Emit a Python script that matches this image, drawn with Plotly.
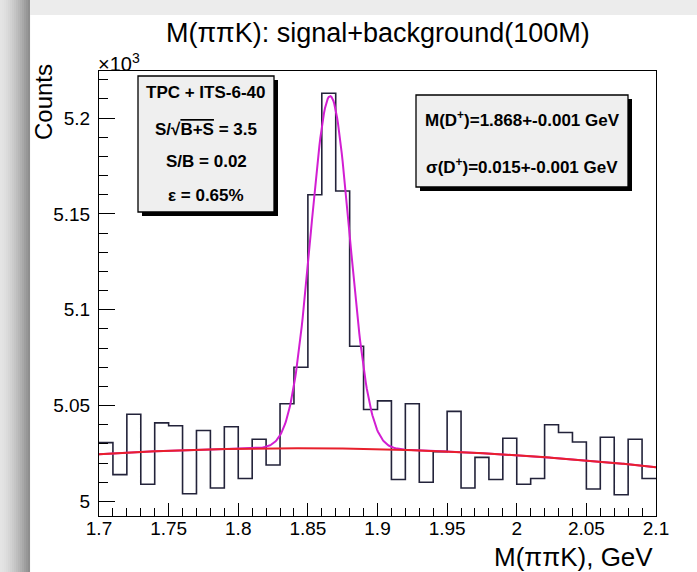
import numpy as np
import plotly.graph_objects as go

# ---------------- data ----------------
bin_low = 1.7
bin_high = 2.1
bin_width = 0.01
counts = [5030.7, 5014.0, 5045.5, 5009.0, 5041.0, 5039.5, 5004.0, 5037.0, 5007.0, 5039.0,
          5012.0, 5032.5, 5019.0, 5051.0, 5070.0, 5160.0, 5213.0, 5162.0, 5081.0, 5048.0,
          5052.5, 5011.5, 5051.0, 5010.0, 5026.0, 5047.0, 5007.0, 5023.0, 5011.5, 5033.0,
          5009.0, 5012.0, 5040.0, 5036.0, 5031.0, 5006.5, 5033.5, 5003.5, 5032.5, 5012.0]

# fit parameters (counts)
gaus_mean = 1.866
gaus_sigma = 0.014
gaus_amp = 183.8
bkg_ref = 1.85
bkg_c0 = 5027.8
bkg_c1 = -1.9
bkg_c2 = -150.7

x_tick_vals = [1.7, 1.75, 1.8, 1.85, 1.9, 1.95, 2.0, 2.05, 2.1]
x_tick_text = ["1.7", "1.75", "1.8", "1.85", "1.9", "1.95", "2", "2.05", "2.1"]
y_tick_vals = [5.0, 5.05, 5.1, 5.15, 5.2]
y_tick_text = ["5", "5.05", "5.1", "5.15", "5.2"]

title_text = "M(ππK): signal+background(100M)"
x_title = "M(ππK), GeV"
y_title = "Counts"
left_box_lines = ["TPC + ITS-6-40",
                  "S/√<span style='text-decoration:overline'>B+S</span> = 3.5",
                  "S/B = 0.02",
                  "ε = 0.65%"]
right_box_lines = ["M(D<sup>+</sup>)=1.868+-0.001 GeV",
                   "σ(D<sup>+</sup>)=0.015+-0.001 GeV"]

# ---------------- geometry ----------------
W, H = 697, 572
PL, PR, PT, PB = 99, 656, 71, 516
FONT = "Liberation Sans, Arial, Helvetica, sans-serif"


def fx(p):
    return (p - PL) / (PR - PL)


def fy(p):
    return (PB - p) / (PB - PT)


nb = len(counts)
edges = [bin_low + i * bin_width for i in range(nb + 1)]
hx = edges
hy = [c / 1000.0 for c in counts] + [counts[-1] / 1000.0]

xf = np.linspace(bin_low, bin_high, 600)
bkg = bkg_c0 + bkg_c1 * (xf - bkg_ref) + bkg_c2 * (xf - bkg_ref) ** 2
tot = bkg + gaus_amp * np.exp(-0.5 * ((xf - gaus_mean) / gaus_sigma) ** 2)

fig = go.Figure()
fig.add_trace(go.Scatter(x=hx, y=hy, mode="lines", line=dict(shape="hv", color="#23233a", width=1.6),
                         hoverinfo="skip", showlegend=False))
fig.add_trace(go.Scatter(x=xf, y=tot / 1000.0, mode="lines", line=dict(color="#d21ed2", width=2),
                         hoverinfo="skip", showlegend=False))
fig.add_trace(go.Scatter(x=xf, y=bkg / 1000.0, mode="lines", line=dict(color="#e8202c", width=2),
                         hoverinfo="skip", showlegend=False))

shapes = []
# page shadow decorations
n_strips = 15
for i in range(n_strips):
    g = int(0xe4 - (0xe4 - 0x8e) * (i / (n_strips - 1)) ** 1.5)
    col = "rgb(%d,%d,%d)" % (g, g, g)
    shapes.append(dict(type="rect", xref="paper", yref="paper", x0=fx(i * 2), x1=fx(i * 2 + 2.05),
                       y0=fy(H), y1=fy(0), fillcolor=col, line=dict(width=0), layer="below"))
shapes.append(dict(type="rect", xref="paper", yref="paper", x0=fx(30), x1=fx(W), y0=fy(15), y1=fy(0),
                   fillcolor="#ececec", line=dict(width=0), layer="below"))


# pave boxes (shadow + box)
def pave(x0, y0, x1, y1):
    shapes.append(dict(type="rect", xref="paper", yref="paper", x0=fx(x0 + 4), x1=fx(x1 + 4),
                       y0=fy(y1 + 4), y1=fy(y0 + 4), fillcolor="black", line=dict(width=0)))
    shapes.append(dict(type="rect", xref="paper", yref="paper", x0=fx(x0), x1=fx(x1),
                       y0=fy(y1), y1=fy(y0), fillcolor="#efefef", line=dict(color="black", width=1.3)))


pave(138, 76, 274, 212)
pave(416, 95, 628, 187)

ann = []
ann.append(dict(text=title_text, x=fx(378), y=fy(33), xref="paper", yref="paper", showarrow=False,
                xanchor="center", yanchor="middle", font=dict(size=27, color="black", family=FONT)))
ann.append(dict(text="×10<sup>3</sup>", x=fx(96), y=fy(62), xref="paper", yref="paper", showarrow=False,
                xanchor="left", yanchor="middle", font=dict(size=20, color="black", family=FONT)))
ann.append(dict(text=y_title, x=fx(43), y=fy(102), xref="paper", yref="paper", showarrow=False,
                textangle=-90, xanchor="center", yanchor="middle",
                font=dict(size=24, color="black", family=FONT)))
ann.append(dict(text=x_title, x=fx(655), y=fy(557), xref="paper", yref="paper", showarrow=False,
                xanchor="right", yanchor="middle", font=dict(size=26, color="black", family=FONT)))
for t, yy in zip(left_box_lines, [93, 129, 161, 195]):
    ann.append(dict(text="<b>%s</b>" % t, x=fx(206), y=fy(yy), xref="paper", yref="paper", showarrow=False,
                    xanchor="center", yanchor="middle", font=dict(size=17, color="black", family=FONT)))
for t, yy in zip(right_box_lines, [119, 166]):
    ann.append(dict(text="<b>%s</b>" % t, x=fx(522), y=fy(yy), xref="paper", yref="paper", showarrow=False,
                    xanchor="center", yanchor="middle", font=dict(size=17, color="black", family=FONT)))

fig.update_layout(
    width=W, height=H,
    margin=dict(l=PL, r=W - PR, t=PT, b=H - PB, pad=0),
    paper_bgcolor="white", plot_bgcolor="white",
    shapes=shapes, annotations=ann, showlegend=False,
    xaxis=dict(range=[bin_low, bin_high], tickvals=x_tick_vals, ticktext=x_tick_text,
               ticks="inside", ticklen=13, tickwidth=1, tickcolor="black", ticklabelstandoff=-5,
               minor=dict(dtick=0.01, tick0=1.7, ticks="inside", ticklen=8, tickcolor="black", tickwidth=1),
               showgrid=False, zeroline=False, showline=True, linecolor="black", linewidth=1, mirror=True,
               tickfont=dict(size=19, color="black", family=FONT)),
    yaxis=dict(range=[4.99243, 5.2246], tickvals=y_tick_vals, ticktext=y_tick_text,
               ticks="inside", ticklen=16, tickwidth=1, tickcolor="black", ticklabelstandoff=4,
               minor=dict(dtick=0.01, tick0=5.0, ticks="inside", ticklen=9, tickcolor="black", tickwidth=1),
               showgrid=False, zeroline=False, showline=True, linecolor="black", linewidth=1, mirror=True,
               tickfont=dict(size=19, color="black", family=FONT)),
)

fig.write_html("out.html", config={"displayModeBar": False},
               post_script="document.body.style.margin='0px';document.body.style.overflow='hidden';")
